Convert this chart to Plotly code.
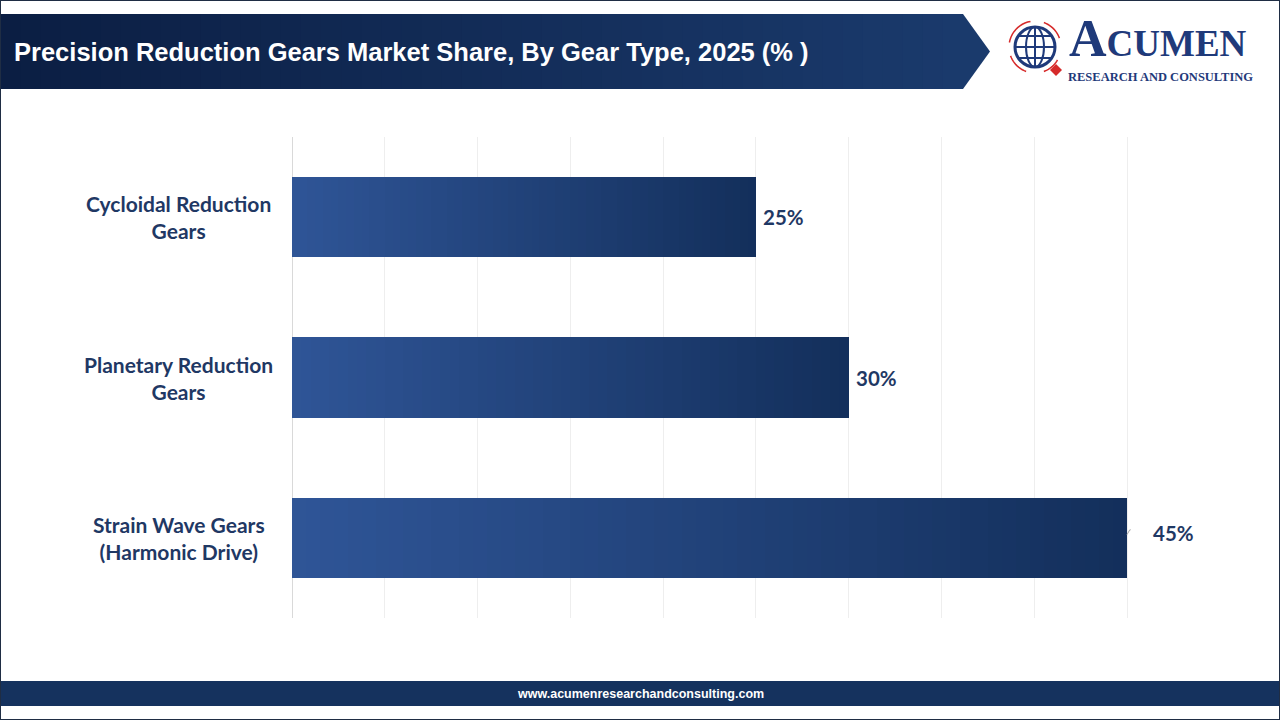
import plotly.graph_objects as go
import numpy as np

# ---- data ----
categories = ["Cycloidal Reduction<br>Gears", "Planetary Reduction<br>Gears", "Strain Wave Gears<br>(Harmonic Drive)"]
shares = [25, 30, 45]
value_labels = ["25%", "30%", "45%"]
title_text = "Precision Reduction Gears Market Share, By Gear Type, 2025 (% )"
footer_text = "www.acumenresearchandconsulting.com"

W, H = 1280, 720
NAVY_TXT = "#1f3864"


def hexrgb(h):
    h = h.lstrip("#")
    return [int(h[i:i + 2], 16) for i in (0, 2, 4)]


def lerp(c1, c2, t):
    a, b = hexrgb(c1), hexrgb(c2)
    return "rgb(%d,%d,%d)" % tuple(round(a[i] + (b[i] - a[i]) * t) for i in range(3))


fig = go.Figure()

# gradient bars: each bar split into stacked segments derived from its value
N = 60
for k in range(N):
    t = (k + 0.5) / N
    fig.add_trace(go.Bar(
        y=categories,
        x=[v / N for v in shares],
        orientation="h",
        width=0.5,
        marker=dict(color=lerp("#2f5597", "#132f5b", t), line=dict(width=0)),
        showlegend=False,
        hoverinfo="skip",
    ))

annotations = []
# value labels
for c, v, lab in zip(categories, shares, value_labels):
    is_max = v == max(shares)
    annotations.append(dict(
        x=v, y=c, xref="x", yref="y", text="<b>%s</b>" % lab, showarrow=False,
        xanchor="left", xshift=24 if is_max else 5, yshift=5 if is_max else 0,
        font=dict(family="Lato", size=20.5, color=NAVY_TXT),
    ))
# category labels (centered block)
for c in categories:
    annotations.append(dict(
        x=178.5 / W, y=c, xref="paper", yref="y", text="<b>%s</b>" % c, showarrow=False,
        xanchor="center", align="center",
        font=dict(family="Lato", size=21, color=NAVY_TXT),
    ))

shapes = []
# title banner with gradient
banner_top, banner_bot = 14, 89
strips = 48
x_end = 963
for i in range(strips):
    x0 = x_end * i / strips
    x1 = x_end * (i + 1) / strips + 1
    shapes.append(dict(type="rect", xref="paper", yref="paper",
                       x0=x0 / W, x1=min(x1, x_end) / W, y0=1 - banner_bot / H, y1=1 - banner_top / H,
                       fillcolor=lerp("#0b1e43", "#1a3a6c", i / (strips - 1)), line=dict(width=0), layer="below"))
shapes.append(dict(type="path", xref="paper", yref="paper",
                   path="M %f %f L %f %f L %f %f Z" % (
                       x_end / W, 1 - banner_top / H, 990 / W, 1 - 51.5 / H, x_end / W, 1 - banner_bot / H),
                   fillcolor="#1a3a6c", line=dict(width=0), layer="below"))
# footer band
shapes.append(dict(type="rect", xref="paper", yref="paper", x0=0, x1=1,
                   y0=1 - 706 / H, y1=1 - 681 / H, fillcolor="#15325e", line=dict(width=0), layer="below"))
# outer frame
shapes.append(dict(type="rect", xref="paper", yref="paper", x0=0, x1=1, y0=0, y1=1,
                   line=dict(color="#1f2d44", width=2)))
# leader line for largest value label
shapes.append(dict(type="path", xref="x", yref="y",
                   path="M 45 1.98 L 45.15 1.95 L 45.45 1.95",
                   line=dict(color="#a6a6a6", width=1)))


def px(x):
    return x / W


def py(y):
    return 1 - y / H


# logo globe
gx, gy, gr = 1035, 47, 20
shapes.append(dict(type="circle", xref="paper", yref="paper", x0=px(gx - gr), x1=px(gx + gr),
                   y0=py(gy + gr), y1=py(gy - gr), line=dict(color="#1f3a7a", width=3), fillcolor="white"))
shapes.append(dict(type="circle", xref="paper", yref="paper", x0=px(gx - 9), x1=px(gx + 9),
                   y0=py(gy + gr), y1=py(gy - gr), line=dict(color="#1f3a7a", width=2)))
shapes.append(dict(type="line", xref="paper", yref="paper", x0=px(gx), x1=px(gx),
                   y0=py(gy + gr), y1=py(gy - gr), line=dict(color="#1f3a7a", width=2)))
for dy in (-11, 0, 11):
    half = np.sqrt(max(gr ** 2 - dy ** 2, 0))
    shapes.append(dict(type="line", xref="paper", yref="paper", x0=px(gx - half), x1=px(gx + half),
                       y0=py(gy + dy), y1=py(gy + dy), line=dict(color="#1f3a7a", width=2)))
# red arcs
for a0, a1 in ((100, 170), (200, 250), (290, 330), (20, 70)):
    ang = np.radians(np.linspace(a0, a1, 12))
    pts = [(gx + 26 * np.cos(a), gy - 26 * np.sin(a)) for a in ang]
    path = "M " + " L ".join("%f %f" % (px(x), py(y)) for x, y in pts)
    shapes.append(dict(type="path", xref="paper", yref="paper", path=path,
                       line=dict(color="#d62a2a", width=1.5)))
# red diamond
dx, dyy, d = 1056, 70, 6
shapes.append(dict(type="path", xref="paper", yref="paper",
                   path="M %f %f L %f %f L %f %f L %f %f Z" % (
                       px(dx), py(dyy - d), px(dx + d), py(dyy), px(dx), py(dyy + d), px(dx - d), py(dyy)),
                   fillcolor="#d62a2a", line=dict(width=0)))

# title, logo text, footer text
annotations += [
    dict(x=12 / W, y=1 - 52 / H, xref="paper", yref="paper", text="<b>%s</b>" % title_text,
         showarrow=False, xanchor="left", yanchor="middle",
         font=dict(family="Liberation Sans, Arial", size=25.5, color="white")),
    dict(x=1068 / W, y=py(68), xref="paper", yref="paper",
         text="<b><span style='font-size:52px'>A</span>CUMEN</b>",
         showarrow=False, xanchor="left", yanchor="bottom", borderpad=0,
         font=dict(family="Liberation Serif", size=37, color="#1f3a7a")),
    dict(x=1160 / W, y=py(69), xref="paper", yref="paper",
         text="<b>RESEARCH AND CONSULTING</b>",
         showarrow=False, xanchor="center", yanchor="top", borderpad=0,
         font=dict(family="Liberation Serif", size=12.5, color="#1f3a7a")),
    dict(x=0.5, y=1 - 693.5 / H, xref="paper", yref="paper", text="<b>%s</b>" % footer_text,
         showarrow=False, xanchor="center", yanchor="middle",
         font=dict(family="Liberation Sans, Arial", size=12.5, color="white")),
]

x_max = 45.2
fig.update_layout(
    width=W, height=H,
    margin=dict(l=0, r=0, t=0, b=0),
    paper_bgcolor="white", plot_bgcolor="white",
    barmode="stack", bargap=0.5,
    showlegend=False,
    xaxis=dict(domain=[292 / W, (292 + 835 * x_max / 45) / W], range=[0, x_max], dtick=5, tick0=0,
               showgrid=True, gridcolor="#eeeeee", gridwidth=1,
               zeroline=True, zerolinecolor="#d9d9d9", zerolinewidth=1,
               showticklabels=False, showline=False, fixedrange=True),
    yaxis=dict(domain=[1 - 618 / H, 1 - 137 / H], autorange="reversed",
               showticklabels=False, showgrid=False, zeroline=False, showline=False),
    annotations=annotations,
    shapes=shapes,
)

fig.write_html("out.html")
